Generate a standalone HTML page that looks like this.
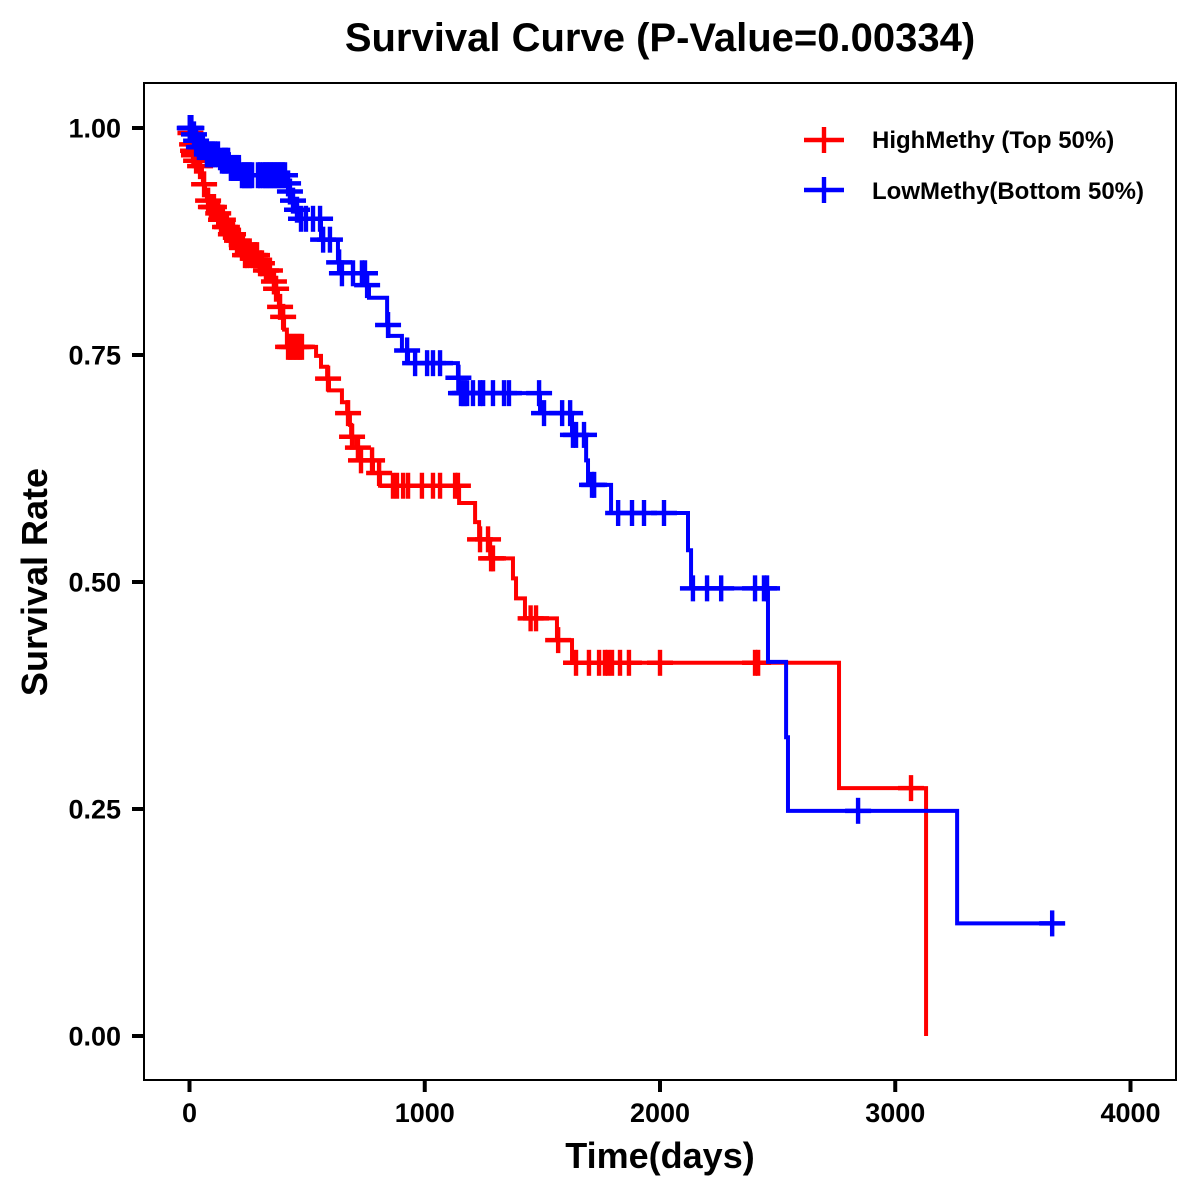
<!DOCTYPE html>
<html lang="en">
<head>
<meta charset="utf-8">
<title>Survival Curve</title>
<style>
html,body{margin:0;padding:0;background:#fff;width:1200px;height:1200px;overflow:hidden}
svg{display:block}
text{font-family:"Liberation Sans",Arial,sans-serif;font-weight:bold;fill:#000}
</style>
</head>
<body>
<svg id="chart" width="1200" height="1200" viewBox="0 0 1200 1200" xmlns="http://www.w3.org/2000/svg">
<rect x="0" y="0" width="1200" height="1200" fill="#fff"/>
<text x="660" y="51" text-anchor="middle" font-size="40">Survival Curve (P-Value=0.00334)</text>
<text x="660" y="1168" text-anchor="middle" font-size="36">Time(days)</text>
<text transform="translate(47 582) rotate(-90)" text-anchor="middle" font-size="36">Survival Rate</text>
<g id="marks"></g>
<rect x="144" y="83" width="1032" height="997" fill="none" stroke="#000" stroke-width="2"/>
<g id="axes"></g>
<g>
<g>
<line x1="804" x2="844" y1="140" y2="140" stroke="#f00" stroke-width="4.5"/>
<line x1="824" x2="824" y1="127" y2="153" stroke="#f00" stroke-width="4.4"/>
<text x="872" y="148" font-size="24">HighMethy (Top 50%)</text>
</g>
<g>
<line x1="804" x2="844" y1="190" y2="190" stroke="#00f" stroke-width="4.5"/>
<line x1="824" x2="824" y1="177" y2="203" stroke="#00f" stroke-width="4.4"/>
<text x="872" y="199" font-size="24">LowMethy(Bottom 50%)</text>
</g>
</g>
</svg>
<script>
var xTicks = [0, 1000, 2000, 3000, 4000];
var yTicks = [0, 0.25, 0.5, 0.75, 1];
var yTickLabels = ["0.00", "0.25", "0.50", "0.75", "1.00"];

var highEventTimes = [2,6,9,13,17,23,36,53,57,66,74,87,113,130,147,168,193,219,232,291,317,346,363,376,380,393,402,414,538,559,585,593,648,670,682,687,708,725,780,810,1146,1214,1231,1278,1375,1388,1426,1562,1626,2761,3131];
var highSurvival = [0.9945,0.988,0.982,0.975,0.970,0.964,0.958,0.948,0.938,0.930,0.920,0.913,0.906,0.899,0.891,0.883,0.876,0.868,0.860,0.851,0.843,0.831,0.823,0.813,0.803,0.792,0.778,0.759,0.749,0.737,0.724,0.711,0.698,0.686,0.673,0.660,0.648,0.634,0.620,0.606,0.587,0.566,0.547,0.526,0.504,0.482,0.460,0.436,0.411,0.273,0];
var highCensorTimes = [4,11,15,19,28,45,62,79,91,96,104,122,134,142,151,159,176,185,202,210,223,227,236,244,257,270,278,287,300,308,325,342,359,368,385,398,419,427,436,444,453,461,470,478,589,674,691,716,729,776,806,865,882,908,929,988,1035,1065,1129,1141,1235,1269,1282,1290,1450,1473,1567,1643,1698,1741,1766,1779,1796,1830,1868,2000,2404,2417,3067];

var lowEventTimes = [15,23,32,66,134,168,215,414,423,436,448,470,559,631,640,750,763,840,846,903,929,1141,1146,1490,1626,1686,1694,1792,2119,2132,2459,2536,2544,3263];
var lowSurvival = [0.993,0.986,0.979,0.971,0.964,0.956,0.948,0.939,0.930,0.920,0.910,0.900,0.877,0.852,0.840,0.827,0.813,0.783,0.771,0.755,0.741,0.725,0.708,0.686,0.662,0.634,0.607,0.576,0.535,0.493,0.412,0.329,0.248,0.124];
var lowCensorTimes = [1,3,5,8,19,28,40,49,57,74,83,91,100,108,121,138,147,155,164,176,185,193,202,210,223,232,240,249,257,266,291,300,312,321,329,338,346,355,363,372,380,389,397,406,419,427,440,457,474,495,525,555,568,597,636,648,695,733,746,755,844,925,959,1010,1035,1065,1143,1154,1163,1171,1180,1205,1235,1248,1290,1337,1358,1486,1507,1584,1618,1630,1643,1677,1711,1720,1822,1881,1932,2017,2140,2200,2260,2404,2442,2455,2842,3667];

var SVGNS = "http://www.w3.org/2000/svg";
function xScale(t) { return 189.5 + t * 0.23525; }
function yScale(s) { return 1036 - s * 908; }

function svgEl(tag, attrs) {
  var el = document.createElementNS(SVGNS, tag);
  for (var k in attrs) { el.setAttribute(k, attrs[k]); }
  return el;
}

function survivalAt(t, times, surv) {
  var s = 1;
  for (var i = 0; i < times.length; i++) {
    if (times[i] <= t) { s = surv[i]; }
  }
  return s;
}

function drawSeries(times, surv, censors, color, name) {
  var marks = document.getElementById("marks");
  var group = svgEl("g", {});
  
  
  var d = "M" + xScale(0) + " " + yScale(1);
  var prev = 1;
  for (var i = 0; i < times.length; i++) {
    d += "L" + xScale(times[i]) + " " + yScale(prev);
    d += "L" + xScale(times[i]) + " " + yScale(surv[i]);
    prev = surv[i];
  }
  var last = censors[censors.length - 1];
  if (last > times[times.length - 1]) {
    d += "L" + xScale(last) + " " + yScale(prev);
  }
  var path = svgEl("path", { d: d, fill: "none", stroke: color, "stroke-width": 4, "stroke-linejoin": "miter" });
  
  
  group.appendChild(path);
  censors.forEach(function (t) {
    var cx = xScale(t);
    var cy = yScale(survivalAt(t, times, surv));
    var mark = svgEl("g", {});
    
    
    mark.appendChild(svgEl("line", { x1: cx - 13, x2: cx + 13, y1: cy, y2: cy, stroke: color, "stroke-width": 4.5 }));
    mark.appendChild(svgEl("line", { x1: cx, x2: cx, y1: cy - 13, y2: cy + 13, stroke: color, "stroke-width": 4.4 }));
    group.appendChild(mark);
  });
  marks.appendChild(group);
}

function drawAxes() {
  var axes = document.getElementById("axes");
  xTicks.forEach(function (v) {
    var x = xScale(v);
    var tick = svgEl("line", { x1: x, x2: x, y1: 1080, y2: 1092, stroke: "#000", "stroke-width": 4 });
    
    
    axes.appendChild(tick);
    var label = svgEl("text", { x: x, y: 1122, "text-anchor": "middle", "font-size": 27 });
    
    
    label.textContent = String(v);
    axes.appendChild(label);
  });
  yTicks.forEach(function (v, i) {
    var y = yScale(v);
    var tick = svgEl("line", { x1: 132, x2: 144, y1: y, y2: y, stroke: "#000", "stroke-width": 4 });
    
    
    axes.appendChild(tick);
    var label = svgEl("text", { x: 121, y: y + 9.5, "text-anchor": "end", "font-size": 27 });
    
    
    label.textContent = yTickLabels[i];
    axes.appendChild(label);
  });
}

drawSeries(highEventTimes, highSurvival, highCensorTimes, "#ff0000", "high-methy");
drawSeries(lowEventTimes, lowSurvival, lowCensorTimes, "#0000ff", "low-methy");
drawAxes();
</script>
</body>
</html>
